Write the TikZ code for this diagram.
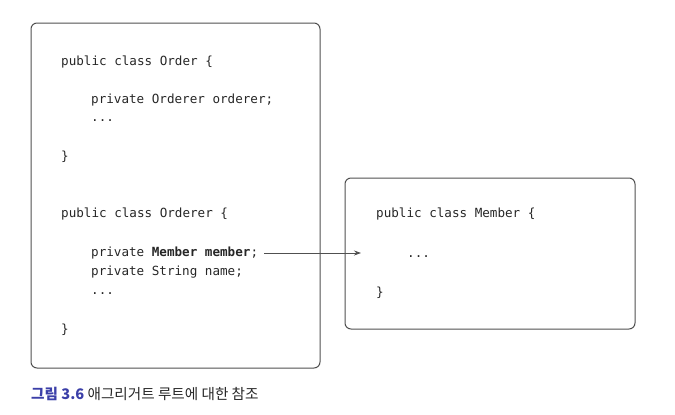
\documentclass[tikz,border=0pt]{standalone}
\usepackage{fontspec}
\setmonofont{DejaVu Sans Mono}
\newfontfamily\krfont{Noto Sans CJK KR}
\usetikzlibrary{positioning,arrows.meta}
\definecolor{codegray}{HTML}{262626}
\definecolor{boxgray}{HTML}{505050}
\definecolor{capblue}{HTML}{3B3FA8}
\tikzset{
  codebox/.style={draw=boxgray, line width=1pt, rounded corners=6pt},
  code/.style={anchor=base west, inner sep=0pt, text=codegray, font=\ttfamily\fontsize{12.6}{14}\selectfont},
}
\begin{document}
\begin{tikzpicture}[x=1pt,y=-1pt]
	\useasboundingbox (0,0) rectangle (675,415);
	% boxes
	\draw[codebox] (31,23) rectangle (320,368);
	\draw[codebox] (345,178) rectangle (635,329);
	% class Order
	\node[code] (order) at (61,65) {public class Order \{};
	\node[code] (orderer field) at (91,103) {private Orderer orderer;};
	\node[code] (order dots) at (91,121) {...};
	\node[code] (order end) at (61,160) {\}};
	% class Orderer
	\node[code] (orderer) at (61,217) {public class Orderer \{};
	\node[code] (member field) at (91,256) {private \textbf{Member member};};
	\node[code] (name field) at (91,275) {private String name;};
	\node[code] (orderer dots) at (91,294) {...};
	\node[code] (orderer end) at (61,333) {\}};
	% class Member
	\node[code] (member) at (376,217) {public class Member \{};
	\node[code] (member dots) at (407,257) {...};
	\node[code] (member end) at (376,296) {\}};
	\coordinate (target) at (361,253);
	\draw[-{Stealth[length=7pt,width=5pt]}, boxgray, line width=0.8pt] (member field.east) ++(6,0) coordinate (source) (source |- target) -- (target);
	% caption
	\node[anchor=base west, inner sep=0pt, font=\krfont\fontsize{14.6}{17}\selectfont] (caption) at (31,399)
		{\textcolor{capblue}{\textbf{그림 3.6}} \textcolor{codegray}{애그리거트 루트에 대한 참조}};
\end{tikzpicture}
\end{document}
